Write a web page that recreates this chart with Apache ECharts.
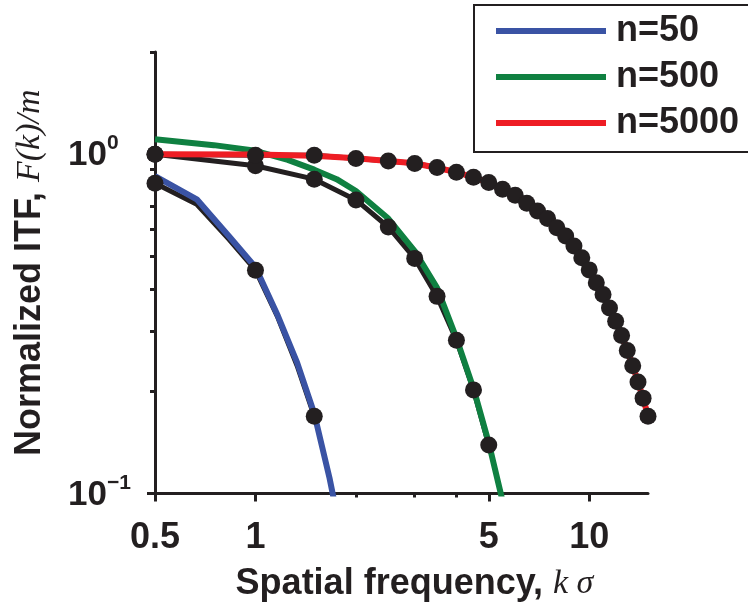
<!DOCTYPE html>
<html>
<head>
<meta charset="utf-8">
<script src="https://cdn.jsdelivr.net/npm/echarts@6/dist/echarts.min.js"></script>
<style>html,body{margin:0;padding:0;background:#fff;}#c{width:748px;height:611px;}</style>
</head>
<body>
<div id="c"></div>
<script>
// ---- data ----
const xMajorTicks = [0.5, 1, 5, 10];
const xMinorTicks = [2, 3, 4];
const yMajorTicks = [0.1, 1];
const yMinorTicks = [0.2, 0.3, 0.4, 0.5, 0.6, 0.7, 0.8, 0.9, 2];

// theory curves
const theory50X = [0.5, 0.667, 0.833, 1.0, 1.167, 1.333, 1.5, 1.667, 1.833];
const theory50Y = [0.861, 0.736, 0.573, 0.464, 0.334, 0.243, 0.172, 0.111, 0.07];
const theory500X = [0.5, 0.75, 1.0, 1.25, 1.5, 1.75, 2.0, 2.5, 3.0, 3.5, 4.0, 4.5, 5.0, 5.5, 6.0];
const theory500Y = [1.107, 1.063, 1.023, 0.962, 0.900, 0.844, 0.779, 0.646, 0.518, 0.404, 0.287, 0.204, 0.141, 0.095, 0.06];
const theory5000X = [0.5, 1, 1.5, 2, 3, 4, 5, 6, 7, 8, 9, 10, 11, 12, 13, 14, 15];
const theory5000Y = [1.0, 0.997, 0.99, 0.972, 0.94, 0.886, 0.826, 0.758, 0.681, 0.608, 0.537, 0.457, 0.387, 0.323, 0.265, 0.214, 0.170];

// simulation (black) curves
const sim50X = [0.5, 0.667, 0.833, 1.0, 1.167, 1.333, 1.5];
const sim50Y = [0.821, 0.712, 0.561, 0.455, 0.330, 0.238, 0.169];
const sim50MarkX = [0.5, 1.0, 1.5];
const sim50MarkY = [0.821, 0.455, 0.169];
const sim500X = [0.5, 1, 1.5, 2, 2.5, 3, 3.5, 4, 4.5, 5];
const sim500Y = [1.0, 0.924, 0.844, 0.733, 0.610, 0.493, 0.381, 0.283, 0.202, 0.139];
const sim5000X = [0.5, 1, 1.5, 2, 2.5, 3, 3.5, 4, 4.5, 5, 5.5, 6, 6.5, 7, 7.5, 8, 8.5, 9, 9.5, 10, 10.5, 11, 11.5, 12, 12.5, 13, 13.5, 14, 14.5, 15];
const sim5000Y = [1.0, 0.993, 0.993, 0.971, 0.955, 0.939, 0.913, 0.885, 0.855, 0.825, 0.788, 0.757, 0.717, 0.680, 0.646, 0.607, 0.574, 0.536, 0.495, 0.456, 0.418, 0.386, 0.352, 0.322, 0.292, 0.264, 0.238, 0.213, 0.191, 0.169];

const seriesNames = ['n=50', 'n=500', 'n=5000'];
const colors = ['#3A53A4', '#0F8041', '#EE1D24'];
const black = '#231F20';

function zip(xs, ys) { return xs.map((x, i) => [x, ys[i]]); }

const chart = echarts.init(document.getElementById('c'), null, {renderer: 'canvas'});

const axisFont = 'Liberation Sans';
const blackLine = (xs, ys) => ({
  type: 'line', data: zip(xs, ys), symbol: 'none', z: 2,
  lineStyle: {color: black, width: 5}, silent: true
});
const theoryLine = (name, xs, ys, c) => ({
  name: name, type: 'line', data: zip(xs, ys), symbol: 'none', z: 3,
  itemStyle: {color: c}, lineStyle: {color: c, width: 6}, silent: true
});
const markers = (xs, ys) => ({
  type: 'scatter', data: zip(xs, ys), symbol: 'circle', symbolSize: 17, z: 4,
  itemStyle: {color: black, opacity: 1}, silent: true
});

const option = {
  animation: false,
  backgroundColor: '#fff',
  grid: {left: 155, right: 100, top: 52, bottom: 117.5, containLabel: false},
  legend: {
    data: seriesNames,
    orient: 'vertical',
    left: 474, top: 5,
    icon: 'rect',
    itemWidth: 110, itemHeight: 6, itemGap: 6,
    padding: [6, 40, 9, 22],
    borderColor: black, borderWidth: 2,
    textStyle: {fontSize: 36, fontWeight: 'bold', fontFamily: axisFont, color: black, lineHeight: 40, padding: [0, 0, 0, 5]}
  },
  xAxis: [{
    type: 'log', logBase: 10, min: 0.5, max: 15, position: 'bottom',
    axisLine: {show: true, lineStyle: {color: black, width: 3}},
    axisTick: {show: true, length: 8, lineStyle: {color: black, width: 3}, customValues: xMajorTicks},
    axisLabel: {customValues: xMajorTicks, margin: 27, fontSize: 36, fontWeight: 'bold', fontFamily: axisFont, color: black,
      formatter: v => String(v)},
    splitLine: {show: false}, minorTick: {show: false},
    name: '{b|Spatial frequency, }{i|k σ}',
    nameLocation: 'middle', nameGap: 73,
    nameTextStyle: {padding: [0, 0, 0, 26], rich: {
      b: {fontSize: 36, fontWeight: 'bold', fontFamily: axisFont, color: black},
      i: {fontSize: 34, fontStyle: 'italic', fontFamily: 'Liberation Serif', color: black}
    }}
  }, {
    type: 'log', logBase: 10, min: 0.5, max: 15, position: 'bottom',
    axisLine: {show: false},
    axisTick: {show: true, length: 4, lineStyle: {color: black, width: 3}, customValues: xMinorTicks},
    axisLabel: {show: false}, splitLine: {show: false}
  }],
  yAxis: [{
    type: 'log', logBase: 10, min: 0.1, max: 2, position: 'left',
    axisLine: {show: true, lineStyle: {color: black, width: 3}},
    axisTick: {show: true, length: 8, lineStyle: {color: black, width: 3}, customValues: yMajorTicks},
    axisLabel: {customValues: yMajorTicks, margin: 87, align: 'left', padding: [3, 0, 0, 0],
      formatter: v => v > 0.5 ? '{b|10}{s|0}' : '{b|10}{s|−1}',
      rich: {
        b: {fontSize: 35, fontWeight: 'bold', fontFamily: axisFont, color: black},
        s: {fontSize: 21, fontWeight: 'bold', fontFamily: axisFont, color: black, padding: [0, 0, 24, 0]}
      }},
    splitLine: {show: false}, minorTick: {show: false},
    name: '{b|Normalized ITF, }{i|F(k)/m}',
    nameLocation: 'middle', nameGap: 107, nameRotate: 90,
    nameTextStyle: {rich: {
      b: {fontSize: 36, fontWeight: 'bold', fontFamily: axisFont, color: black},
      i: {fontSize: 34, fontStyle: 'italic', fontFamily: 'Liberation Serif', color: black}
    }}
  }, {
    type: 'log', logBase: 10, min: 0.1, max: 2, position: 'left',
    axisLine: {show: false},
    axisTick: {show: true, length: 5, lineStyle: {color: black, width: 3}, customValues: yMinorTicks},
    axisLabel: {show: false}, splitLine: {show: false}
  }],
  series: [
    blackLine(sim50X, sim50Y),
    blackLine(sim500X, sim500Y),
    blackLine(sim5000X, sim5000Y),
    theoryLine(seriesNames[0], theory50X, theory50Y, colors[0]),
    theoryLine(seriesNames[1], theory500X, theory500Y, colors[1]),
    theoryLine(seriesNames[2], theory5000X, theory5000Y, colors[2]),
    markers(sim50MarkX, sim50MarkY),
    markers(sim500X, sim500Y),
    markers(sim5000X, sim5000Y)
  ]
};
chart.setOption(option);
</script>
</body>
</html>
